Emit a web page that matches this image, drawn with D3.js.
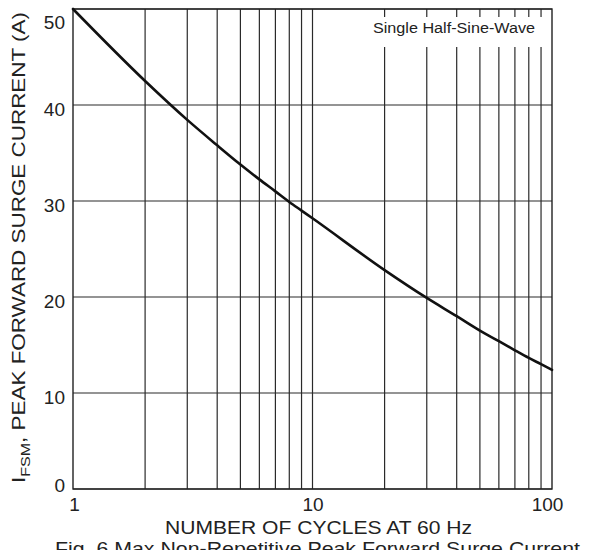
<!DOCTYPE html>
<html>
<head>
<meta charset="utf-8">
<script src="https://cdn.jsdelivr.net/npm/d3@7"></script>
<style>
  html, body { margin: 0; padding: 0; background: #fff; }
  svg { display: block; font-family: Arial, "Liberation Sans", Helvetica, sans-serif; }
</style>
</head>
<body>
<svg id="chart" width="596" height="550"></svg>
<script>
// ---- data ----
const cycles  = [1, 2, 3, 4, 5, 6, 7, 8, 9, 10, 20, 30, 40, 50, 60, 70, 80, 90, 100];
const current = [50, 42.5, 38.45, 35.8, 33.8, 32.25, 31.0, 29.9, 29.0, 28.2, 22.8, 19.9, 18.0, 16.5, 15.4, 14.45, 13.65, 13.0, 12.4];
const xTickLabels = [1, 10, 100];
const yTickLabels = [0, 10, 20, 30, 40, 50];
const xGrid = [2,3,4,5,6,7,8,9,10,20,30,40,50,60,70,80,90];
const legendText = "Single Half-Sine-Wave";
const xTitle = "NUMBER OF CYCLES AT 60 Hz";
const caption = "Fig. 6  Max Non-Repetitive Peak Forward Surge Current";

const svg = d3.select("#chart");
const L = 73, R = 552, T = 9, B = 489;

const x = d3.scaleLog().domain([1, 100]).range([L, R]);
const y = d3.scaleLinear().domain([0, 50]).range([B, T]);

const gridColor = "#2a2a2a";

// horizontal grid
svg.append("g").selectAll("line").data(yTickLabels).join("line")
  .attr("x1", L).attr("x2", R)
  .attr("y1", d => y(d)).attr("y2", d => y(d))
  .attr("stroke", gridColor).attr("stroke-width", 1.2);

// vertical grid
svg.append("g").selectAll("line").data(xGrid).join("line")
  .attr("x1", d => x(d)).attr("x2", d => x(d))
  .attr("y1", T).attr("y2", B)
  .attr("stroke", gridColor).attr("stroke-width", 1.2);

// frame
svg.append("rect").attr("x", L).attr("y", T).attr("width", R - L).attr("height", B - T)
  .attr("fill", "none").attr("stroke", "#222").attr("stroke-width", 1.4);

// legend box (white background over grid)
const lg = svg.append("g");
lg.append("rect").attr("x", 366).attr("y", 17).attr("width", 181).attr("height", 30).attr("fill", "#fff");
lg.append("text").attr("x", 373).attr("y", 33).attr("font-size", 15.5).attr("fill", "#222")
  .attr("textLength", 162).attr("lengthAdjust", "spacingAndGlyphs").text(legendText);

// curve
const line = d3.line().x((d, i) => x(cycles[i])).y(d => y(d)).curve(d3.curveMonotoneX);
svg.append("path").datum(current).attr("d", line)
  .attr("fill", "none").attr("stroke", "#111").attr("stroke-width", 2.6).attr("stroke-linecap", "round");

// axes
const xAxis = svg.append("g").attr("transform", `translate(0,${B})`)
  .call(d3.axisBottom(x).tickValues(xTickLabels).tickSize(0).tickPadding(0).tickFormat(d3.format("d")));
xAxis.select(".domain").remove();
xAxis.selectAll("text").attr("font-size", 19).attr("fill", "#222").attr("font-family", null)
  .attr("dy", null).attr("y", 22)
  .attr("dx", d => d === 100 ? -5 : (d === 1 ? 1 : 0));

const yAxis = svg.append("g").attr("transform", `translate(${L},0)`)
  .call(d3.axisLeft(y).tickValues(yTickLabels).tickSize(0).tickPadding(8));
yAxis.select(".domain").remove();
yAxis.selectAll("text").attr("font-size", 19).attr("fill", "#222").attr("font-family", null)
  .attr("dy", d => d === 50 ? "1.0em" : (d === 0 ? "0.15em" : "0.55em"));

// x title
svg.append("text").attr("x", 165).attr("y", 534).attr("font-size", 18.5).attr("fill", "#222")
  .attr("textLength", 307).attr("lengthAdjust", "spacingAndGlyphs").text(xTitle);

// caption (partly cut off at bottom, as in the reference)
svg.append("text").attr("x", 55).attr("y", 555).attr("font-size", 18.5).attr("fill", "#222")
  .attr("textLength", 525).attr("lengthAdjust", "spacingAndGlyphs").text(caption);

// y title, rotated, with subscript
const yt = svg.append("text").attr("transform", "translate(25,483) rotate(-90)")
  .attr("font-size", 17.5).attr("fill", "#222");
yt.append("tspan").text("I");
yt.append("tspan").attr("font-size", 12.5).attr("dy", 5).text("FSM");
yt.append("tspan").attr("dy", -5).text(", PEAK FORWARD SURGE CURRENT (A)");
yt.attr("textLength", 471).attr("lengthAdjust", "spacingAndGlyphs");
</script>
</body>
</html>
